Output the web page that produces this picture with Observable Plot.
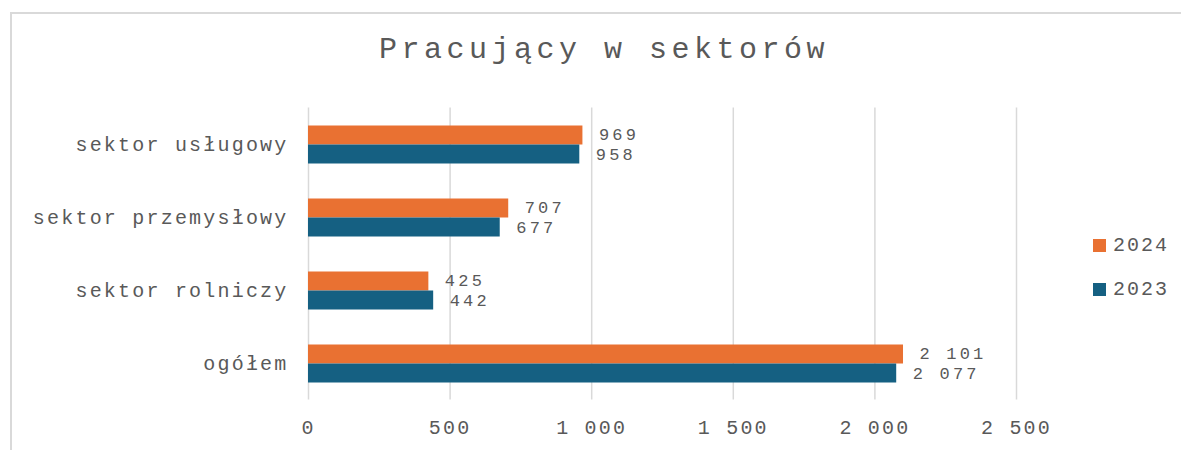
<!DOCTYPE html>
<html>
<head>
<meta charset="utf-8">
<script src="https://cdn.jsdelivr.net/npm/d3@7"></script>
<script src="https://cdn.jsdelivr.net/npm/@observablehq/plot@0.6"></script>
<style>
  html, body { margin: 0; padding: 0; background: #fff; }
  #wrap { position: relative; width: 1181px; height: 450px; overflow: hidden; font-family: "Liberation Mono", "Courier New", monospace; color: #595959; }
  #border { position: absolute; left: 10px; top: 12px; width: 1300px; height: 600px; border-left: 2px solid #d9d9d9; border-top: 2px solid #d9d9d9; }
  #title { position: absolute; left: 0; width: 1208px; top: 30px; text-align: center; font-size: 30px; letter-spacing: 4.5px; line-height: 40px; white-space: nowrap; }
  #chart { position: absolute; left: 0; top: 0; }
  #chart svg text { letter-spacing: 2.2px; }
  #chart svg g.vals text { letter-spacing: 3.2px; }
  .leg { position: absolute; left: 1093px; font-size: 20px; letter-spacing: 2px; line-height: 20px; white-space: nowrap; }
  .leg i { display: inline-block; width: 13px; height: 13px; margin-right: 7px; vertical-align: -1px; }
</style>
</head>
<body>
<div id="wrap">
  <div id="border"></div>
  <div id="title">Pracujący w sektorów</div>
  <div id="chart"></div>
  <div id="legend"></div>
</div>
<script>
const categories = ["sektor usługowy", "sektor przemysłowy", "sektor rolniczy", "ogółem"];
const years = ["2024", "2023"];
const values2024 = [969, 707, 425, 2101];
const values2023 = [958, 677, 442, 2077];
const xTicks = [0, 500, 1000, 1500, 2000, 2500];
const colors = {"2024": "#E97132", "2023": "#156082"};

const data2024 = categories.map((c, i) => ({category: c, year: "2024", value: values2024[i]}));
const data2023 = categories.map((c, i) => ({category: c, year: "2023", value: values2023[i]}));

const locale = d3.formatLocale({decimal: ",", thousands: " ", grouping: [3], currency: ["", ""]});
const fmt = locale.format(",");

const font = "Liberation Mono, Courier New, monospace";

const chart = Plot.plot({
  width: 1181,
  height: 450,
  marginLeft: 308,
  marginRight: 165,
  marginTop: 107.5,
  marginBottom: 50.5,
  style: {fontFamily: font, fontSize: "20px", color: "#595959", background: "transparent", overflow: "visible"},
  x: {domain: [0, 2500], ticks: xTicks, tickFormat: fmt, label: null},
  y: {domain: categories, padding: 0, label: null},
  marks: [
    Plot.gridX(xTicks, {stroke: "#d9d9d9", strokeOpacity: 1, strokeWidth: 1.5}),
    Plot.axisX({ticks: xTicks, tickFormat: fmt, tickSize: 0, tickPadding: 20, fontSize: 20, fill: "#595959", label: null}),
    Plot.axisY({tickSize: 0, tickPadding: 20, fontSize: 20, fill: "#595959", label: null}),
    Plot.barX(data2024, {x: "value", y: "category", fill: colors["2024"], insetTop: 17.5, insetBottom: 36.5}),
    Plot.barX(data2023, {x: "value", y: "category", fill: colors["2023"], insetTop: 36.5, insetBottom: 17.5}),
    Plot.text(data2024, {x: "value", y: "category", text: d => fmt(d.value), dx: 16, dy: -10, textAnchor: "start", fill: "#595959", fontSize: 17, className: "vals"}),
    Plot.text(data2023, {x: "value", y: "category", text: d => fmt(d.value), dx: 16, dy: 10, textAnchor: "start", fill: "#595959", fontSize: 17, className: "vals"})
  ]
});
document.getElementById("chart").appendChild(chart);

const legend = document.getElementById("legend");
const legTops = {"2024": 236, "2023": 280};
years.forEach(y => {
  const d = document.createElement("div");
  d.className = "leg";
  d.style.top = legTops[y] + "px";
  d.innerHTML = `<i style="background:${colors[y]}"></i>${y}`;
  legend.appendChild(d);
});
</script>
</body>
</html>
